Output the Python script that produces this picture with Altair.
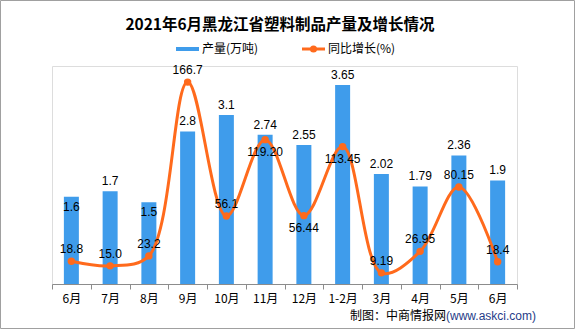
import altair as alt
import pandas as pd

categories = ["6月", "7月", "8月", "9月", "10月", "11月", "12月", "1-2月", "3月", "4月", "5月", "6月"]
production = [1.6, 1.7, 1.5, 2.8, 3.1, 2.74, 2.55, 3.65, 2.02, 1.79, 2.36, 1.9]
prod_labels = ["1.6", "1.7", "1.5", "2.8", "3.1", "2.74", "2.55", "3.65", "2.02", "1.79", "2.36", "1.9"]
growth = [18.8, 15.0, 23.2, 166.7, 56.1, 119.20, 56.44, 113.45, 9.19, 26.95, 80.15, 18.4]
growth_labels = ["18.8", "15.0", "23.2", "166.7", "56.1", "119.20", "56.44", "113.45", "9.19", "26.95", "80.15", "18.4"]
below_label_idx = [5, 6, 7]
inside_bar_label_idx = [0, 2]

left_ticks = [0, 0.5, 1, 1.5, 2, 2.5, 3, 3.5, 4]
right_ticks = [0, 20, 40, 60, 80, 100, 120, 140, 160, 180]

FONT = "Noto Sans CJK SC"
NUMFONT = "Liberation Sans"
BLUE = "#3F9CEB"
ORANGE = "#FF6A1C"
AXIS_GRAY = "#8C8C8C"

df = pd.DataFrame({
    "idx": list(range(len(categories))),
    "prod": production,
    "prod_label": prod_labels,
    "growth": growth,
    "growth_label": growth_labels,
})
df["below"] = df["idx"].isin(below_label_idx)
df["inside"] = df["idx"].isin(inside_bar_label_idx)

label_expr = "[" + ",".join("'" + c + "'" for c in categories) + "][datum.value]"

x_enc = alt.X(
    "idx:O",
    title=None,
    scale=alt.Scale(paddingInner=0, paddingOuter=0),
    axis=alt.Axis(
        labelExpr=label_expr,
        labelAngle=0,
        labelFont=FONT,
        labelFontSize=12,
        labelColor="#000",
        labelPadding=4,
        domainColor=AXIS_GRAY,
        tickColor=AXIS_GRAY,
        tickBand="extent",
        tickSize=5,
    ),
)

base = alt.Chart(df)

y_left = alt.Y(
    "prod:Q",
    title=None,
    scale=alt.Scale(domain=[0, 4], nice=False),
    axis=alt.Axis(
        values=left_ticks,
        format=".1f",
        grid=False,
        orient="left",
        labelFont=NUMFONT,
        labelFontSize=12,
        labelColor="#000",
        domainColor=AXIS_GRAY,
        tickColor=AXIS_GRAY,
        tickSize=5,
        labelPadding=4,
    ),
)

bars = base.mark_bar(color=BLUE, size=15).encode(x=x_enc, y=y_left)
bar_text = base.transform_filter("!datum.inside").mark_text(
    baseline="bottom", dy=-3, font=NUMFONT, fontSize=12, color="#000"
).encode(x=x_enc, y=alt.Y("prod:Q", axis=None), text="prod_label:N")
bar_text_in = base.transform_filter("datum.inside").mark_text(
    baseline="top", dy=5, font=NUMFONT, fontSize=12, color="#000"
).encode(x=x_enc, y=alt.Y("prod:Q", axis=None), text="prod_label:N")

left = alt.layer(bars, bar_text, bar_text_in)

y_right = alt.Y(
    "growth:Q",
    title=None,
    scale=alt.Scale(domain=[0, 180], nice=False),
    axis=alt.Axis(
        values=right_ticks,
        format=".1f",
        grid=False,
        orient="right",
        labelFont=NUMFONT,
        labelFontSize=12,
        labelColor="#000",
        domainColor=AXIS_GRAY,
        tickColor=AXIS_GRAY,
        tickSize=5,
        labelPadding=5,
    ),
)

line = base.mark_line(color=ORANGE, strokeWidth=3, interpolate="catmull-rom").encode(
    x=x_enc, y=y_right
)
pts = base.mark_circle(color=ORANGE, size=55, opacity=1).encode(
    x=x_enc, y=alt.Y("growth:Q", axis=None)
)
line_text_above = base.transform_filter("!datum.below").mark_text(
    baseline="bottom", dy=-5, font=NUMFONT, fontSize=12, color="#000"
).encode(x=x_enc, y=alt.Y("growth:Q", axis=None), text="growth_label:N")
line_text_below = base.transform_filter("datum.below").mark_text(
    baseline="top", dy=7, font=NUMFONT, fontSize=12, color="#000"
).encode(x=x_enc, y=alt.Y("growth:Q", axis=None), text="growth_label:N")

right = alt.layer(line, pts, line_text_above, line_text_below)

one = alt.Chart(pd.DataFrame({"a": [0]}))

title = one.mark_text(
    text="2021年6月黑龙江省塑料制品产量及增长情况",
    font=FONT, fontSize=15.5, fontWeight="bold", color="#000",
    align="center", baseline="middle",
).encode(x=alt.value(228), y=alt.value(-41))

leg_rect = one.mark_rect(color=BLUE).encode(
    x=alt.value(124), x2=alt.value(147), y=alt.value(-19), y2=alt.value(-15)
)
leg_text1 = one.mark_text(
    text="产量(万吨)", font=FONT, fontSize=12, color="#000", align="left", baseline="middle"
).encode(x=alt.value(150), y=alt.value(-17))
leg_line = one.mark_rule(color=ORANGE, strokeWidth=3).encode(
    x=alt.value(250), x2=alt.value(273), y=alt.value(-17)
)
leg_dot = one.mark_circle(color=ORANGE, size=50, opacity=1).encode(
    x=alt.value(261.5), y=alt.value(-17)
)
leg_text2 = one.mark_text(
    text="同比增长(%)", font=FONT, fontSize=12, color="#000", align="left", baseline="middle"
).encode(x=alt.value(276), y=alt.value(-17))

foot1 = one.mark_text(
    text="制图：中商情报网", font=FONT, fontSize=12, color="#000", align="right", baseline="middle"
).encode(x=alt.value(394), y=alt.value(250))
foot2 = one.mark_text(
    text="(www.askci.com)", font=NUMFONT, fontSize=12, color="#1F3C88", align="left", baseline="middle"
).encode(x=alt.value(394), y=alt.value(250))

frame = one.mark_rect(fill=None, stroke="#A0A0A0", strokeWidth=1, filled=False).encode(
    x=alt.value(-51.5), x2=alt.value(522.5), y=alt.value(-65.5), y2=alt.value(262.5)
)

chart = alt.layer(
    left, right, title, leg_rect, leg_text1, leg_line, leg_dot, leg_text2, foot1, foot2, frame
).resolve_scale(y="independent").properties(
    width=465,
    height=218,
    padding={"left": 52, "top": 66, "right": 58, "bottom": 45},
    autosize=alt.AutoSizeParams(type="none"),
).configure_view(stroke=None).configure(background="white")

chart.save("out.html", embed_options={"renderer": "svg", "actions": False})
